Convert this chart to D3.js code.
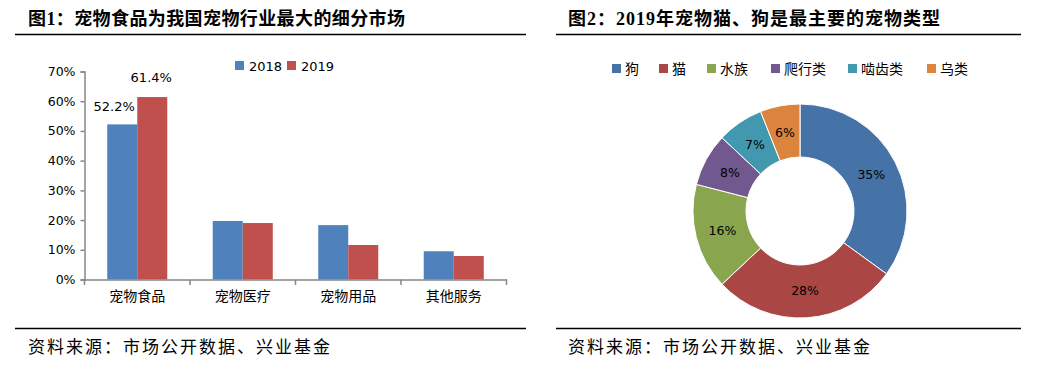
<!DOCTYPE html>
<html>
<head>
<meta charset="utf-8">
<script src="https://cdn.jsdelivr.net/npm/d3@7"></script>
<style>
body { margin: 0; background: #fff; }
svg { display: block; }
.ttl { font-family: "Liberation Serif", "Noto Sans CJK SC", serif; font-weight: bold; font-size: 18px; fill: #000; }
.src { font-family: "Liberation Serif", "Noto Sans CJK SC", serif; font-size: 17px; letter-spacing: 2px; fill: #000; }
.lab { font-family: "DejaVu Sans", "Noto Sans CJK SC", sans-serif; font-size: 12px; fill: #000; }
.cn { font-family: "Noto Sans CJK SC", sans-serif; font-size: 14px; fill: #000; }
</style>
</head>
<body>
<svg id="chart" width="1040" height="376"></svg>
<script>
// 图1 data
var categories = ['宠物食品', '宠物医疗', '宠物用品', '其他服务'];
var years = ['2018', '2019'];
var share2018 = [0.522, 0.197, 0.183, 0.095];
var share2019 = [0.614, 0.190, 0.116, 0.079];
var yTicks = [0, 0.1, 0.2, 0.3, 0.4, 0.5, 0.6, 0.7];

// 图2 data
var petTypes = ['狗', '猫', '水族', '爬行类', '啮齿类', '乌类'];
var petShare = [35, 28, 16, 8, 7, 6];

var barColors = ['#4F81BD', '#C0504D'];
var pieColors = ['#4572A7', '#AA4643', '#89A54E', '#71588F', '#4198AF', '#DB843D'];

var svg = d3.select('#chart');

// titles + rules
svg.append('text').attr('class', 'ttl').attr('x', 28).attr('y', 25)
	.style('letter-spacing', '0.4px')
	.text('图1：宠物食品为我国宠物行业最大的细分市场');
svg.append('text').attr('class', 'ttl').attr('x', 568).attr('y', 25)
	.style('letter-spacing', '1px')
	.text('图2：2019年宠物猫、狗是最主要的宠物类型');

var rules = [[15, 526, 34.5], [556, 1021, 34.5], [15, 526, 328.5], [556, 1021, 328.5]];
svg.selectAll('.rule').data(rules).enter().append('line')
	.attr('x1', function(d){ return d[0]; })
	.attr('x2', function(d){ return d[1]; })
	.attr('y1', function(d){ return d[2]; })
	.attr('y2', function(d){ return d[2]; })
	.attr('stroke', '#000').attr('stroke-width', 1.3);

svg.append('text').attr('class', 'src').attr('x', 28).attr('y', 353).text('资料来源：市场公开数据、兴业基金');
svg.append('text').attr('class', 'src').attr('x', 568).attr('y', 353).text('资料来源：市场公开数据、兴业基金');

// ---- bar chart ----
var x = d3.scaleBand().domain(categories).range([84.5, 506.5])
	.paddingInner(0.431).paddingOuter(0.2155);
var xs = d3.scaleBand().domain(years).range([0, x.bandwidth()]);
var y = d3.scaleLinear().domain([0, 0.7]).range([279.5, 71.5]);

var rows = categories.map(function(c, i){
	return { cat: c, vals: [share2018[i], share2019[i]] };
});

var groups = svg.selectAll('.grp').data(rows).enter().append('g')
	.attr('transform', function(d){ return 'translate(' + x(d.cat) + ',0)'; });
groups.selectAll('rect').data(function(d){
		return d.vals.map(function(v, j){ return { year: years[j], v: v, j: j }; });
	}).enter().append('rect')
	.attr('x', function(d){ return xs(d.year); })
	.attr('width', xs.bandwidth())
	.attr('y', function(d){ return y(d.v); })
	.attr('height', function(d){ return y(0) - y(d.v); })
	.attr('fill', function(d){ return barColors[d.j]; });

// y axis
var yAxis = svg.append('g').attr('transform', 'translate(84.5,0)')
	.call(d3.axisLeft(y).tickValues(yTicks).tickFormat(d3.format('.0%')).tickSize(4).tickPadding(5));
yAxis.selectAll('text').attr('class', 'lab').style('font-size', '12.5px').style('font-family', '"DejaVu Sans", sans-serif').attr('fill', '#000');
yAxis.selectAll('line, path').attr('stroke', '#868686').attr('stroke-width', 1.5);

// x axis
var step = x.step();
var xAxis = svg.append('g').attr('transform', 'translate(0,279.5)')
	.call(d3.axisBottom(x).tickSize(0).tickPadding(12));
xAxis.select('path').attr('stroke', '#868686').attr('stroke-width', 1.5);
xAxis.selectAll('text').attr('class', 'cn').style('font-size', '14px').style('font-family', '"Noto Sans CJK SC", sans-serif').attr('fill', '#000');
var bounds = categories.map(function(c){ return x(c) - x.paddingInner() * step / 2; });
bounds.push(x.range()[1]);
svg.selectAll('.xtick').data(bounds).enter().append('line')
	.attr('x1', function(d){ return d; }).attr('x2', function(d){ return d; })
	.attr('y1', 279.5).attr('y2', 285)
	.attr('stroke', '#868686').attr('stroke-width', 1.5);

// data labels (first category only)
var labelOffsets = [[-8, -13], [-1, -15]];
share2018.slice(0, 1).concat(share2019.slice(0, 1)).forEach(function(v, j){
	svg.append('text').attr('class', 'lab').style('font-size', '13px')
		.attr('text-anchor', 'middle')
		.attr('x', x(categories[0]) + xs(years[j]) + xs.bandwidth() / 2 + labelOffsets[j][0])
		.attr('y', y(v) + labelOffsets[j][1])
		.text(d3.format('.1%')(v));
});

// bar legend
var leg1 = svg.selectAll('.leg1').data(years).enter().append('g')
	.attr('transform', function(d, i){ return 'translate(' + (235 + i * 52) + ',61)'; });
leg1.append('rect').attr('width', 9).attr('height', 9)
	.attr('fill', function(d, i){ return barColors[i]; });
leg1.append('text').attr('class', 'lab').style('font-size', '13px')
	.attr('x', 14).attr('y', 9.5).text(function(d){ return d; });

// ---- donut ----
var pie = d3.pie().sort(null).value(function(d){ return d; });
var arc = d3.arc().innerRadius(54).outerRadius(107);
var labelArc = d3.arc().innerRadius(80).outerRadius(80);
var donut = svg.append('g').attr('transform', 'translate(800,211)');
var slices = pie(petShare);
donut.selectAll('path').data(slices).enter().append('path')
	.attr('d', arc)
	.attr('fill', function(d, i){ return pieColors[i]; })
	.attr('stroke', '#fff').attr('stroke-width', 1);
donut.selectAll('text').data(slices).enter().append('text')
	.attr('class', 'lab').style('font-size', '12.5px')
	.attr('text-anchor', 'middle').attr('dy', '0.35em')
	.attr('transform', function(d){ return 'translate(' + labelArc.centroid(d) + ')'; })
	.text(function(d){ return d.data + '%'; });

// donut legend
var legX = [612, 659, 707, 771, 848, 927];
var leg2 = svg.selectAll('.leg2').data(petTypes).enter().append('g')
	.attr('transform', function(d, i){ return 'translate(' + legX[i] + ',64)'; });
leg2.append('rect').attr('width', 9).attr('height', 9)
	.attr('fill', function(d, i){ return pieColors[i]; });
leg2.append('text').attr('class', 'cn').attr('x', 13).attr('y', 10).text(function(d){ return d; });
</script>
</body>
</html>
